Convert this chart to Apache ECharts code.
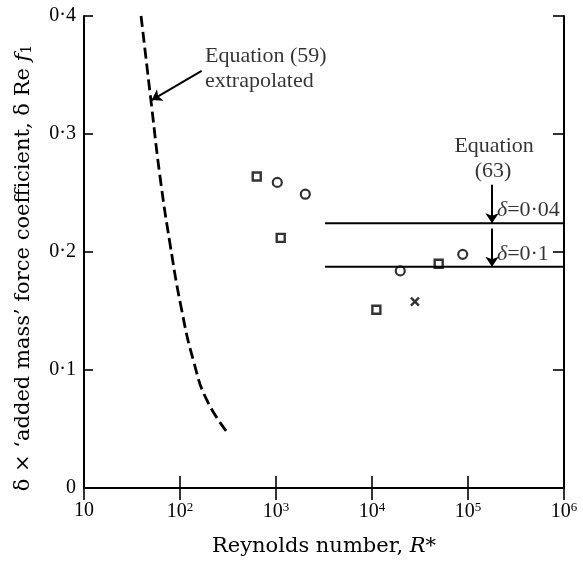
<!DOCTYPE html>
<html><head><meta charset="utf-8">
<script src="https://cdn.jsdelivr.net/npm/echarts@6/dist/echarts.min.js"></script>
<style>html,body{margin:0;padding:0;background:#fff}#c{width:583px;height:564px}</style>
</head><body><div id="c"></div>
<script>
// ---- data ----
const yTickLabels = ['0', '0·1', '0·2', '0·3', '0·4'];
const squares = [[630, 0.264], [1120, 0.212], [11100, 0.151], [49500, 0.190]];
const circles = [[1032, 0.259], [2020, 0.249], [19700, 0.184], [88100, 0.198]];
const crosses = [[28000, 0.158]];
// Equation (59) extrapolated (dashed)
const eq59R = [39.3, 50.7, 61.9, 78.7, 104, 138, 190, 319];
const eq59V = [0.4, 0.323, 0.264, 0.207, 0.151, 0.108, 0.0746, 0.046];
// Equation (63) levels
const eq63Start = 3240, eq63End = 1e6;
const delta004 = 0.2243, delta01 = 0.1876;
const arrowR = 1.78e5;
const arrow63a = [0.257, delta004];
const arrow63b = [0.220, delta01];
const arrow59 = [[168, 0.3534], [50.7, 0.3288]];
// annotations: [R, value, text]
const annLeft = [
  [182, 0.3655, 'Equation (59)'],
  [182, 0.3445, 'extrapolated'],
  [2.0e5, 0.2356, '{i|δ}=0·04'],
  [2.0e5, 0.1985, '{i|δ}=0·1']
];
const annCenter = [
  [1.87e5, 0.2895, 'Equation'],
  [1.82e5, 0.2686, '(63)']
];

const SERIF = '"Liberation Serif", "Times New Roman", serif';
const TITLE = '"DejaVu Serif", serif';
const eq59 = eq59R.map((r, i) => [r, eq59V[i]]);

const chart = echarts.init(document.getElementById('c'), null, {renderer: 'canvas'});
const tickStyle = {show: true, inside: true, lineStyle: {color: '#000', width: 1.6}};
const lineAxis = {show: true, lineStyle: {color: '#000', width: 2}};

chart.setOption({
  animation: false,
  backgroundColor: '#fff',
  grid: {left: 84, right: 19, top: 16, bottom: 76},
  xAxis: [{
    type: 'log', logBase: 10, min: 10, max: 1e6, interval: 1,
    position: 'bottom',
    axisLine: lineAxis,
    axisTick: Object.assign({length: 12}, tickStyle),
    splitLine: {show: false}, minorTick: {show: false},
    axisLabel: {
      margin: 13, color: '#000', fontFamily: SERIF, fontSize: 20,
      formatter: v => {
        const e = Math.round(Math.log10(v));
        return e === 1 ? '10' : '{b|10}{s|' + e + '}';
      },
      rich: {
        b: {fontFamily: SERIF, fontSize: 20, color: '#000'},
        s: {fontFamily: SERIF, fontSize: 13, color: '#000', verticalAlign: 'top', padding: [0, 0, 8, 0]}
      }
    },
    name: '{n|Reynolds number, }{i|R}{n|*}',
    nameLocation: 'middle', nameGap: 48,
    nameTextStyle: {
      rich: {
        n: {fontFamily: TITLE, fontSize: 21, color: '#000'},
        i: {fontFamily: TITLE, fontSize: 21, fontStyle: 'italic', color: '#000'}
      }
    }
  }, {
    type: 'log', logBase: 10, min: 10, max: 1e6, interval: 1,
    position: 'top',
    axisLine: lineAxis,
    axisTick: Object.assign({length: 12}, tickStyle),
    axisLabel: {show: false}, splitLine: {show: false}
  }],
  yAxis: [{
    type: 'value', min: 0, max: 0.4, interval: 0.1,
    position: 'left',
    axisLine: lineAxis,
    axisTick: Object.assign({length: 9}, tickStyle),
    splitLine: {show: false},
    axisLabel: {
      margin: 8, color: '#000', fontFamily: SERIF, fontSize: 20,
      formatter: v => yTickLabels[Math.round(v * 10)]
    },
    name: '{n|δ × ‘added mass’ force coefficient, δ Re }{i|f}{s|1}',
    nameLocation: 'middle', nameGap: 50,
    nameTextStyle: {
      padding: [0, 32, 0, 0],
      rich: {
        n: {fontFamily: TITLE, fontSize: 21, color: '#000'},
        i: {fontFamily: TITLE, fontSize: 21, fontStyle: 'italic', color: '#000'},
        s: {fontFamily: TITLE, fontSize: 14, color: '#000', verticalAlign: 'bottom', padding: [7, 0, 0, 0]}
      }
    }
  }, {
    type: 'value', min: 0, max: 0.4, interval: 0.1,
    position: 'right',
    axisLine: lineAxis,
    axisTick: Object.assign({length: 11}, tickStyle),
    axisLabel: {show: false}, splitLine: {show: false}
  }],
  series: [
    {
      type: 'line', data: eq59, smooth: 0.5, showSymbol: false, silent: true,
      lineStyle: {color: '#000', width: 2.8, type: [11, 5]}
    },
    {
      type: 'line', data: [[eq63Start, delta004], [eq63End, delta004]], showSymbol: false, silent: true,
      lineStyle: {color: '#000', width: 2}
    },
    {
      type: 'line', data: [[eq63Start, delta01], [eq63End, delta01]], showSymbol: false, silent: true,
      lineStyle: {color: '#000', width: 2}
    },
    {
      type: 'scatter', data: squares, symbol: 'rect', symbolSize: 8, silent: true,
      itemStyle: {color: '#fff', borderColor: '#000', borderWidth: 2.4}
    },
    {
      type: 'scatter', data: circles, symbol: 'circle', symbolSize: 9, silent: true,
      itemStyle: {color: '#fff', borderColor: '#000', borderWidth: 2.2}
    },
    {
      type: 'scatter', data: crosses, symbol: 'path://M0,0L10,10M10,0L0,10', symbolSize: 8, silent: true,
      itemStyle: {color: 'none', borderColor: '#000', borderWidth: 2.4}
    },
    {
      type: 'line', data: [], silent: true,
      markLine: {
        silent: true, symbol: ['none', 'arrow'], symbolSize: 10,
        label: {show: false},
        lineStyle: {color: '#000', width: 2, type: 'solid'},
        emphasis: {disabled: true},
        data: [
          [{coord: arrow59[0]}, {coord: arrow59[1]}],
          [{coord: [arrowR, arrow63a[0]]}, {coord: [arrowR, arrow63a[1]]}],
          [{coord: [arrowR, arrow63b[0]]}, {coord: [arrowR, arrow63b[1]]}]
        ]
      }
    },
    {
      type: 'scatter', symbolSize: 0, silent: true,
      data: annLeft.map(a => ({value: [a[0], a[1]], label: {formatter: a[2]}})),
      label: {
        show: true, position: 'right', distance: 0,
        color: '#000', fontFamily: SERIF, fontSize: 22,
        rich: {i: {fontFamily: SERIF, fontSize: 22, fontStyle: 'italic', color: '#000'}}
      }
    },
    {
      type: 'scatter', symbolSize: 0, silent: true,
      data: annCenter.map(a => ({value: [a[0], a[1]], label: {formatter: a[2]}})),
      label: {
        show: true, position: 'inside',
        color: '#000', fontFamily: SERIF, fontSize: 22
      }
    }
  ]
});
</script>
</body></html>
